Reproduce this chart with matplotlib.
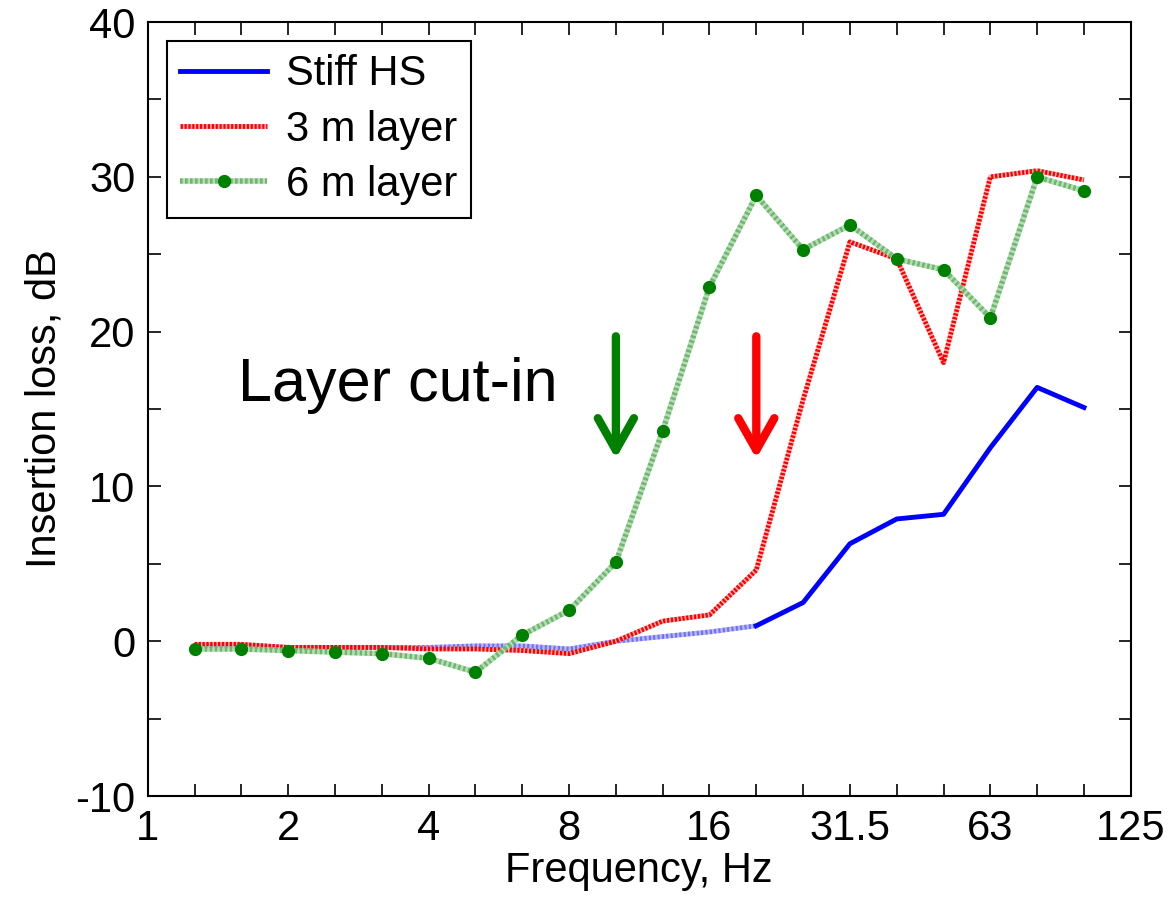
import numpy as np
import matplotlib
matplotlib.use('Agg')
import matplotlib.pyplot as plt
from matplotlib.ticker import FixedLocator, NullFormatter

plt.rcParams['font.family'] = ['Liberation Sans', 'DejaVu Sans']
plt.rcParams['axes.unicode_minus'] = False

# one-third octave bands (nominal centre frequencies, Hz)
bands = [1.25, 1.6, 2, 2.5, 3.15, 4, 5, 6.3, 8, 10,
         12.5, 16, 20, 25, 31.5, 40, 50, 63, 80, 100]

# insertion loss, dB
stiff_hs = [-0.3, -0.3, -0.4, -0.4, -0.4, -0.4, -0.3, -0.3, -0.5, 0.0,
            0.3, 0.6, 1.0, 2.5, 6.3, 7.9, 8.2, 12.5, 16.4, 15.1]
layer_3m = [-0.2, -0.2, -0.4, -0.4, -0.4, -0.5, -0.5, -0.6, -0.8, 0.0,
            1.3, 1.7, 4.6, 15.6, 25.8, 24.7, 18.0, 30.0, 30.4, 29.8]
layer_6m = [-0.5, -0.5, -0.6, -0.7, -0.8, -1.1, -2.0, 0.4, 2.0, 5.1,
            13.6, 22.9, 28.8, 25.3, 26.9, 24.7, 24.0, 20.9, 30.0, 29.1]

oct_ticks = [1, 2, 4, 8, 16, 32, 64, 128]
oct_labels = ['1', '2', '4', '8', '16', '31.5', '63', '125']

# cut-in arrows: (band, top, tip, colour)
cutin = [(10, 19.7, 11.8, 'green'), (20, 19.7, 11.8, 'red')]

# plot on exact base-2 band centres
f = 2.0 ** (np.round(3 * np.log2(bands)) / 3)
n_soft = bands.index(20) + 1

fig = plt.figure(figsize=(11.73, 9.02), dpi=100)
ax = fig.add_axes([0.126, 0.1175, 0.838, 0.858])

ax.plot(f[:n_soft], stiff_hs[:n_soft], color='#7070ff', lw=3.5,
        ls=(0, (0.5, 0.4)), gapcolor='#b8b8ff', solid_capstyle='butt')
ax.plot(f[n_soft - 1:], stiff_hs[n_soft - 1:], color='blue', lw=3.5)
ax.plot(f, layer_3m, color='red', lw=3.5, ls=(0, (0.5, 0.3)), gapcolor='#ffb0b0')
ax.plot(f, layer_6m, color='#6db86d', lw=4, ls=(0, (0.5, 0.4)), gapcolor='#b5dcb5',
        marker='o', ms=8.5, mfc='green', mec='green')

# proxies so the legend shows a solid blue line
h1, = ax.plot([], [], color='blue', lw=3.5, label='Stiff HS')
h2, = ax.plot([], [], color='red', lw=3.5, ls=(0, (0.5, 0.3)), gapcolor='#ffb0b0',
              label='3 m layer')
h3, = ax.plot([], [], color='#6db86d', lw=4, ls=(0, (0.5, 0.4)), gapcolor='#b5dcb5',
              marker='o', ms=8.5, mfc='green', mec='green', label='6 m layer')

for band, top, tip, c in cutin:
    x = 2.0 ** (np.round(3 * np.log2(band)) / 3)
    ax.annotate('', xy=(x, tip), xytext=(x, top),
                arrowprops=dict(arrowstyle='->,head_length=2.3,head_width=1.3',
                                color=c, lw=6, shrinkA=0, shrinkB=0,
                                mutation_scale=10, capstyle='round',
                                joinstyle='round'))

ax.text(3.43, 16.5, 'Layer cut-in', fontsize=44, ha='center', va='center')

ax.set_xscale('log', base=2)
ax.set_xlim(1, 128)
ax.set_ylim(-10, 40)
ax.xaxis.set_major_locator(FixedLocator(oct_ticks))
ax.set_xticklabels(oct_labels)
ax.xaxis.set_minor_locator(FixedLocator(2.0 ** (np.arange(22) / 3)))
ax.xaxis.set_minor_formatter(NullFormatter())
ax.set_yticks(np.arange(-10, 41, 10))
ax.set_yticks(np.arange(-10, 41, 5), minor=True)

ax.tick_params(which='both', direction='in', top=True, right=True,
               length=9, width=1.2, labelsize=30, pad=9)
for s in ax.spines.values():
    s.set_linewidth(1.5)

ax.set_xlabel('Frequency, Hz', fontsize=30, labelpad=2)
ax.set_ylabel('Insertion loss, dB', fontsize=30, labelpad=8)

leg = ax.legend(handles=[h1, h2, h3], loc='upper left', fontsize=30,
                handlelength=2.1, labelspacing=0.37, borderaxespad=0.45,
                fancybox=False, framealpha=1, edgecolor='black',
                handletextpad=0.45, borderpad=0.32)
leg.get_frame().set_linewidth(1.5)

fig.savefig('out.png', dpi=100)
